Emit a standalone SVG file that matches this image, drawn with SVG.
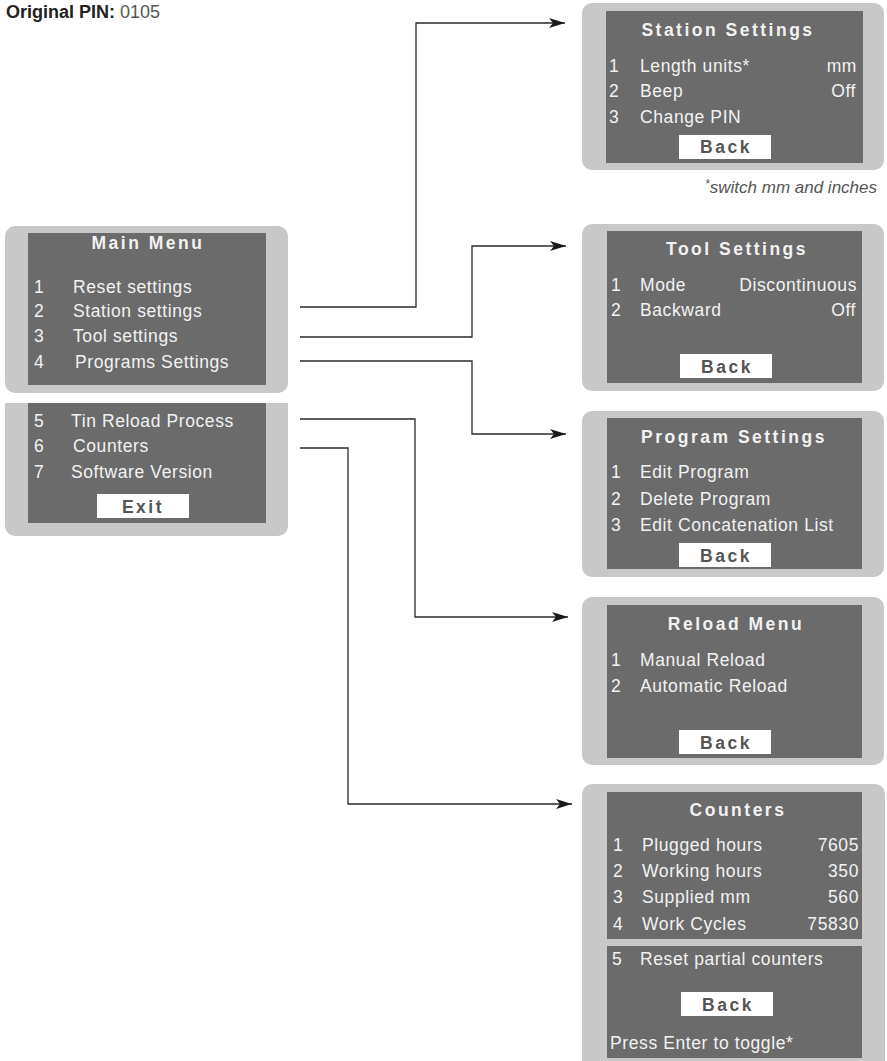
<svg xmlns="http://www.w3.org/2000/svg" width="887" height="1061" viewBox="0 0 887 1061">
<style>
.outer{fill:#c8c8c8}
.inner{fill:#6b6b6b}
.btn{fill:#ffffff}
.t{font-family:"Liberation Sans",Arial,sans-serif;font-size:17.5px;fill:#f2f2f2;letter-spacing:0.6px}
.ttl{font-family:"Liberation Sans",Arial,sans-serif;font-size:17.5px;font-weight:bold;fill:#f2f2f2;letter-spacing:2.5px;text-anchor:middle}
.bk{font-family:"Liberation Sans",Arial,sans-serif;font-size:17.5px;font-weight:bold;fill:#555555;letter-spacing:2.5px;text-anchor:middle}
.r{text-anchor:end}
.conn{fill:none;stroke:#2a2a2a;stroke-width:1.3}
</style>
<defs>
<marker id="arr" markerUnits="userSpaceOnUse" markerWidth="17" markerHeight="11" refX="16" refY="5" orient="auto" viewBox="0 0 17 11">
<path d="M0,0 L16,5 L0,10 L4,5 Z" fill="#1a1a1a"/>
</marker>
</defs>

<g id="header">
<text x="6" y="18" font-family="'Liberation Sans',Arial,sans-serif" font-size="18" font-weight="bold" fill="#222">Original PIN: <tspan font-weight="normal" fill="#555">0105</tspan></text>
</g>

<g id="connectors">
<path class="conn" d="M300,307 H416 V23 H565" marker-end="url(#arr)"/>
<path class="conn" d="M300,337 H472 V246 H566" marker-end="url(#arr)"/>
<path class="conn" d="M300,361 H472 V434 H566" marker-end="url(#arr)"/>
<path class="conn" d="M300,419 H415 V617 H568" marker-end="url(#arr)"/>
<path class="conn" d="M300,448 H348 V804 H572" marker-end="url(#arr)"/>
</g>

<g id="main-menu">
<rect class="outer" x="5" y="226" width="283" height="167" rx="10"/>
<rect class="inner" x="28" y="233" width="238" height="152"/>
<path class="outer" d="M5,403 H288 V526 A10,10 0 0 1 278,536 H15 A10,10 0 0 1 5,526 Z"/>
<rect class="inner" x="28" y="403" width="238" height="120"/>
<text class="ttl" x="148" y="249">Main Menu</text>
<text class="t" x="34" y="293">1</text><text class="t" x="73" y="293">Reset settings</text>
<text class="t" x="34" y="317">2</text><text class="t" x="73" y="317">Station settings</text>
<text class="t" x="34" y="342">3</text><text class="t" x="73" y="342">Tool settings</text>
<text class="t" x="34" y="368">4</text><text class="t" x="75" y="368">Programs Settings</text>
<text class="t" x="34" y="427">5</text><text class="t" x="71" y="427">Tin Reload Process</text>
<text class="t" x="34" y="452">6</text><text class="t" x="73" y="452">Counters</text>
<text class="t" x="34" y="478">7</text><text class="t" x="71" y="478">Software Version</text>
<rect class="btn" x="97" y="494" width="92" height="24"/>
<text class="bk" x="143" y="513">Exit</text>
</g>

<g id="station-settings">
<rect class="outer" x="582" y="3" width="302" height="167" rx="10"/>
<rect class="inner" x="606" y="11" width="257" height="152"/>
<text class="ttl" x="728" y="36">Station Settings</text>
<text class="t" x="609" y="72">1</text><text class="t" x="640" y="72">Length units*</text><text class="t r" x="857" y="72">mm</text>
<text class="t" x="609" y="97">2</text><text class="t" x="640" y="97">Beep</text><text class="t r" x="856" y="97">Off</text>
<text class="t" x="609" y="123">3</text><text class="t" x="640" y="123">Change PIN</text>
<rect class="btn" x="679" y="135" width="92" height="24"/>
<text class="bk" x="726" y="153">Back</text>
<text x="877" y="193" text-anchor="end" font-family="'Liberation Sans',Arial,sans-serif" font-size="17" font-style="italic" fill="#555"><tspan font-size="12" dy="-5">*</tspan><tspan dy="5">switch mm and inches</tspan></text>
</g>

<g id="tool-settings">
<rect class="outer" x="582" y="224" width="302" height="167" rx="10"/>
<rect class="inner" x="607" y="231" width="255" height="152"/>
<text class="ttl" x="737" y="255">Tool Settings</text>
<text class="t" x="611" y="291">1</text><text class="t" x="640" y="291">Mode</text><text class="t r" x="857" y="291">Discontinuous</text>
<text class="t" x="611" y="316">2</text><text class="t" x="640" y="316">Backward</text><text class="t r" x="856" y="316">Off</text>
<rect class="btn" x="680" y="354" width="92" height="24"/>
<text class="bk" x="727" y="373">Back</text>
</g>

<g id="program-settings">
<rect class="outer" x="582" y="411" width="302" height="166" rx="10"/>
<rect class="inner" x="607" y="418" width="255" height="151"/>
<text class="ttl" x="734" y="443">Program Settings</text>
<text class="t" x="611" y="478">1</text><text class="t" x="640" y="478">Edit Program</text>
<text class="t" x="611" y="505">2</text><text class="t" x="640" y="505">Delete Program</text>
<text class="t" x="611" y="531">3</text><text class="t" x="640" y="531">Edit Concatenation List</text>
<rect class="btn" x="679" y="543" width="92" height="24"/>
<text class="bk" x="726" y="562">Back</text>
</g>

<g id="reload-menu">
<rect class="outer" x="582" y="597" width="302" height="168" rx="10"/>
<rect class="inner" x="607" y="605" width="255" height="153"/>
<text class="ttl" x="736" y="630">Reload Menu</text>
<text class="t" x="611" y="666">1</text><text class="t" x="640" y="666">Manual Reload</text>
<text class="t" x="611" y="692">2</text><text class="t" x="640" y="692">Automatic Reload</text>
<rect class="btn" x="679" y="730" width="92" height="24"/>
<text class="bk" x="726" y="749">Back</text>
</g>

<g id="counters">
<rect class="outer" x="582" y="784" width="303" height="290" rx="10"/>
<rect class="inner" x="607" y="792" width="255" height="147"/>
<rect class="inner" x="607" y="946" width="255" height="112"/>
<text class="ttl" x="738" y="816">Counters</text>
<text class="t" x="613" y="851">1</text><text class="t" x="642" y="851">Plugged hours</text><text class="t r" x="859" y="851">7605</text>
<text class="t" x="613" y="877">2</text><text class="t" x="642" y="877">Working hours</text><text class="t r" x="859" y="877">350</text>
<text class="t" x="613" y="903">3</text><text class="t" x="642" y="903">Supplied mm</text><text class="t r" x="859" y="903">560</text>
<text class="t" x="613" y="930">4</text><text class="t" x="642" y="930">Work Cycles</text><text class="t r" x="859" y="930">75830</text>
<text class="t" x="612" y="965">5</text><text class="t" x="640" y="965">Reset partial counters</text>
<rect class="btn" x="681" y="992" width="92" height="24"/>
<text class="bk" x="728" y="1011">Back</text>
<text class="t" x="610" y="1049">Press Enter to toggle*</text>
</g>
</svg>
